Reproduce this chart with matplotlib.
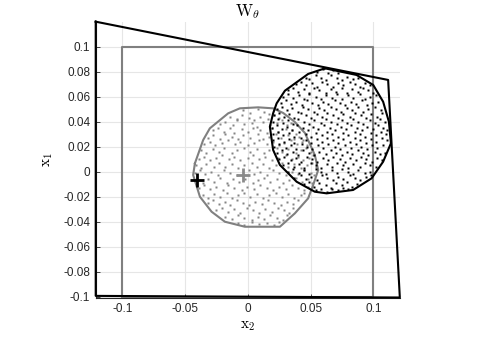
import numpy as np
import matplotlib.pyplot as plt

plt.rcParams['font.family'] = ['Liberation Sans', 'DejaVu Sans']
plt.rcParams['mathtext.fontset'] = 'cm'

# 点云 (单位: 1e-3)
gray_pts = [
    (-4, 49), (2, 47), (8, 50), (13, 48), (17, 46),
    (-14, 44), (-9, 42), (-5, 45), (1, 43), (5, 41), (10, 44), (16, 42), (21, 45), (25, 43),
    (-22, 38), (-18, 40), (-12, 37), (-9, 41), (-3, 38), (3, 39), (7, 36), (12, 40), (18, 37),
    (23, 39), (27, 41), (31, 37), (34, 39),
    (-28, 33), (-24, 35), (-19, 32), (-14, 35), (-11, 31), (-5, 34), (0, 32), (4, 35), (10, 33),
    (15, 31), (19, 35), (24, 32), (30, 34), (35, 33), (38, 30),
    (-32, 27), (-28, 29), (-22, 26), (-18, 30), (-13, 28), (-8, 26), (-4, 29), (2, 27), (8, 30),
    (12, 26), (17, 28), (22, 30), (26, 27), (32, 29), (37, 26), (41, 28), (44, 25),
    (-35, 22), (-30, 24), (-26, 21), (-21, 23), (-16, 25), (-10, 22), (-6, 24), (0, 21), (5, 23),
    (9, 25), (15, 22), (20, 24), (25, 21), (29, 23), (34, 25), (39, 22), (43, 24), (47, 21),
    (-37, 17), (-33, 15), (-28, 18), (-23, 16), (-19, 19), (-13, 15), (-9, 17), (-3, 19), (2, 16),
    (7, 18), (13, 15), (17, 17), (23, 19), (27, 16), (32, 18), (38, 15), (42, 17), (46, 19), (50, 16),
    (-39, 10), (-35, 12), (-30, 9), (-25, 11), (-21, 13), (-15, 10), (-11, 12), (-6, 9), (0, 11),
    (4, 13), (9, 10), (14, 12), (19, 9), (24, 11), (30, 13), (35, 10), (40, 12), (44, 9), (49, 11), (52, 13),
    (-41, 5), (-37, 3), (-33, 6), (-27, 4), (-23, 7), (-18, 4), (-13, 6), (-8, 3), (-3, 5), (3, 7),
    (7, 4), (12, 6), (17, 3), (22, 5), (27, 7), (32, 4), (37, 6), (42, 3), (47, 5), (51, 7), (54, 4),
    (-42, -1), (-38, 1), (-34, -2), (-29, 0), (-24, -3), (-19, 1), (-14, -1), (-9, -3), (1, 1), (5, -2),
    (10, 0), (15, -3), (20, 1), (25, -1), (30, -3), (35, 0), (40, -2), (45, 1), (50, -1), (53, -3),
    (-41, -7), (-36, -9), (-32, -6), (-27, -8), (-22, -5), (-17, -9), (-12, -6), (-7, -8), (-2, -6),
    (4, -9), (8, -7), (13, -5), (18, -8), (23, -6), (28, -9), (33, -7), (38, -5), (43, -8), (48, -6), (51, -9),
    (-39, -13), (-35, -11), (-30, -14), (-25, -12), (-20, -15), (-16, -11), (-11, -13), (-5, -15),
    (-1, -12), (5, -14), (10, -11), (15, -13), (20, -15), (25, -12), (30, -14), (35, -11), (40, -13),
    (45, -15), (48, -12),
    (-36, -19), (-32, -21), (-27, -18), (-22, -20), (-17, -17), (-13, -21), (-8, -19), (-3, -17),
    (2, -20), (7, -18), (12, -21), (17, -19), (22, -17), (27, -20), (32, -18), (37, -21), (42, -19), (45, -17),
    (-32, -25), (-28, -23), (-23, -26), (-18, -24), (-14, -27), (-9, -23), (-4, -25), (1, -27),
    (6, -24), (11, -26), (16, -23), (21, -25), (26, -27), (31, -24), (36, -26), (40, -23),
    (-25, -31), (-21, -29), (-16, -32), (-11, -30), (-6, -33), (-1, -29), (4, -31), (9, -33),
    (14, -30), (19, -32), (24, -29), (29, -31), (33, -33), (36, -29),
    (-18, -36), (-13, -38), (-8, -35), (-3, -37), (3, -39), (8, -36), (13, -38), (18, -35),
    (23, -37), (28, -39), (31, -35),
    (-8, -41), (-3, -43), (3, -40), (9, -42), (15, -41), (21, -43), (25, -40),
]

black_pts = [
    (55, 80), (60, 82), (64, 79), (68, 81), (72, 79),
    (46, 75), (49, 74), (54, 77), (58, 75), (62, 73), (66, 77), (71, 75), (75, 73), (79, 76), (84, 74), (88, 75),
    (38, 70), (42, 72), (46, 69), (51, 71), (55, 68), (59, 72), (63, 70), (68, 68), (72, 71), (76, 69),
    (81, 72), (85, 70), (89, 68), (93, 71), (97, 69),
    (32, 65), (36, 67), (40, 64), (45, 66), (49, 63), (53, 67), (57, 65), (62, 63), (66, 66), (70, 64),
    (75, 67), (79, 63), (83, 66), (88, 64), (92, 67), (96, 65), (100, 63),
    (28, 60), (32, 62), (36, 59), (41, 61), (45, 58), (49, 62), (54, 60), (58, 58), (62, 61), (67, 59),
    (71, 62), (75, 58), (80, 61), (84, 59), (89, 62), (93, 58), (97, 60), (102, 61),
    (26, 55), (30, 57), (34, 54), (38, 56), (43, 53), (47, 57), (51, 55), (56, 53), (60, 56), (64, 54),
    (69, 57), (73, 55), (77, 53), (82, 56), (86, 54), (91, 57), (95, 53), (99, 55), (104, 56),
    (23, 50), (27, 52), (31, 49), (35, 51), (40, 48), (44, 52), (48, 50), (53, 48), (57, 51), (61, 49),
    (66, 52), (70, 50), (74, 48), (79, 51), (83, 49), (88, 52), (92, 48), (96, 50), (101, 52), (106, 49),
    (21, 45), (25, 47), (29, 44), (33, 46), (37, 43), (42, 47), (46, 45), (50, 43), (55, 46), (59, 44),
    (63, 47), (68, 45), (72, 43), (76, 46), (81, 44), (85, 47), (90, 45), (94, 43), (98, 46), (103, 44), (107, 47),
    (20, 40), (24, 42), (28, 39), (32, 41), (36, 38), (40, 42), (45, 40), (49, 38), (53, 41), (58, 39),
    (62, 42), (66, 40), (71, 38), (75, 41), (79, 39), (84, 42), (88, 40), (92, 38), (97, 41), (101, 39),
    (105, 42), (109, 40),
    (19, 35), (23, 37), (27, 34), (31, 36), (35, 33), (39, 37), (44, 35), (48, 33), (52, 36), (56, 34),
    (61, 37), (65, 35), (69, 33), (74, 36), (78, 34), (82, 37), (87, 35), (91, 33), (95, 36), (100, 34),
    (104, 37), (108, 35), (111, 33),
    (20, 30), (24, 32), (28, 29), (33, 31), (37, 28), (41, 32), (46, 30), (50, 28), (54, 31), (59, 29),
    (63, 32), (67, 30), (72, 28), (76, 31), (80, 29), (85, 32), (89, 30), (93, 28), (98, 31), (102, 29),
    (106, 32), (110, 30),
    (20, 25), (24, 27), (29, 24), (33, 26), (37, 23), (42, 27), (46, 25), (50, 23), (55, 26), (59, 24),
    (63, 27), (68, 25), (72, 23), (76, 26), (81, 24), (85, 27), (89, 25), (94, 23), (98, 26), (102, 24),
    (107, 27), (111, 25),
    (21, 20), (25, 22), (30, 19), (34, 21), (38, 18), (43, 22), (47, 20), (51, 18), (56, 21), (60, 19),
    (64, 22), (69, 20), (73, 18), (77, 21), (82, 19), (86, 22), (90, 20), (95, 18), (99, 21), (103, 19), (108, 21),
    (23, 15), (27, 17), (31, 14), (36, 16), (40, 13), (44, 17), (49, 15), (53, 13), (57, 16), (62, 14),
    (66, 17), (70, 15), (75, 13), (79, 16), (83, 14), (88, 17), (92, 15), (96, 13), (101, 16), (105, 14), (109, 15),
    (25, 10), (29, 12), (34, 9), (38, 11), (42, 8), (47, 12), (51, 10), (55, 8), (60, 11), (64, 9),
    (68, 12), (73, 10), (77, 8), (81, 11), (86, 9), (90, 12), (94, 10), (99, 8), (103, 11), (107, 9),
    (28, 5), (32, 7), (37, 4), (41, 6), (45, 3), (50, 7), (54, 5), (58, 3), (63, 6), (67, 4),
    (71, 7), (76, 5), (80, 3), (84, 6), (89, 4), (93, 7), (97, 5), (102, 4),
    (32, 0), (36, 2), (41, -1), (45, 1), (49, -2), (54, 2), (58, 0), (62, -2), (67, 1), (71, -1),
    (75, 2), (80, 0), (84, -2), (88, 1), (93, -1), (97, 0), (98, -3),
    (37, -5), (42, -3), (46, -6), (50, -4), (55, -7), (59, -3), (63, -5), (68, -7), (72, -4), (76, -6),
    (81, -3), (85, -5), (89, -7), (94, -4),
    (45, -10), (49, -8), (53, -12), (57, -9), (62, -11), (66, -13), (70, -9), (75, -11), (79, -8), (83, -12), (87, -10),
    (54, -15), (58, -14), (63, -16), (67, -14), (72, -15), (76, -13), (80, -14),
]

# 凸包顶点
gray_hull = [(-0.0422, 0.0067), (-0.0436, -0.0026), (-0.0382, -0.02), (-0.0289, -0.032),
             (-0.0183, -0.04), (-0.0024, -0.044), (0.0255, -0.044), (0.0374, -0.0333),
             (0.048, -0.0213), (0.052, -0.0106), (0.056, 0.0014), (0.0533, 0.0134),
             (0.0454, 0.031), (0.0374, 0.0398), (0.0281, 0.047), (0.0201, 0.0507),
             (0.0082, 0.0515), (-0.0064, 0.0507), (-0.0157, 0.0467), (-0.0303, 0.0347),
             (-0.0356, 0.0254)]
black_hull = [(0.0613, 0.0827), (0.0865, 0.0774), (0.0998, 0.0694), (0.1077, 0.056),
              (0.1123, 0.04), (0.1139, 0.0227), (0.1077, 0.008), (0.0985, -0.0053),
              (0.0838, -0.0146), (0.0627, -0.0173), (0.0533, -0.016), (0.0388, -0.008),
              (0.0255, 0.0054), (0.0201, 0.0174), (0.0175, 0.036), (0.0201, 0.0467),
              (0.0229, 0.0547), (0.0295, 0.0648), (0.048, 0.0782)]

box = [(-0.1, -0.1), (0.1, -0.1), (0.1, 0.1), (-0.1, 0.1)]
outer = [(-0.1212, 0.12), (0.1117, 0.0734), (0.121, -0.1006), (-0.1212, -0.0993)]
gray_plus = (-0.0037, -0.0026)
black_plus = (-0.0408, -0.0066)

xticks = [-0.1, -0.05, 0, 0.05, 0.1]
xlabels = ['-0.1', '-0.05', '0', '0.05', '0.1']
yticks = [-0.1, -0.08, -0.06, -0.04, -0.02, 0, 0.02, 0.04, 0.06, 0.08, 0.1]
ylabels = ['-0.1', '-0.08', '-0.06', '-0.04', '-0.02', '0', '0.02', '0.04', '0.06', '0.08', '0.1']

GRAY = '#808080'


def closed(pts):
    a = np.array(pts, dtype=float)
    return np.vstack([a, a[:1]])


fig = plt.figure(figsize=(4.79, 3.59), dpi=100)
ax = fig.add_axes([0.1998, 0.1713, 0.6349, 0.7683])

b = closed(box)
ax.plot(b[:, 0], b[:, 1], color=GRAY, lw=1.5, zorder=2)

g = np.array(gray_pts) / 1000.0
ax.plot(g[:, 0], g[:, 1], 's', ms=1.6, mfc='#858585', mec='none', zorder=3)
gh = closed(gray_hull)
ax.plot(gh[:, 0], gh[:, 1], color=GRAY, lw=1.5, zorder=4)

k = np.array(black_pts) / 1000.0
ax.plot(k[:, 0], k[:, 1], 's', ms=1.8, mfc='black', mec='none', zorder=5)
kh = closed(black_hull)
ax.plot(kh[:, 0], kh[:, 1], color='black', lw=1.5, zorder=6)

o = closed(outer)
ax.plot(o[:, 0], o[:, 1], color='black', lw=1.5, zorder=7, clip_on=False)

ax.plot(*gray_plus, '+', ms=10, mew=2, color='#8a8a8a', zorder=8)
ax.plot(*black_plus, '+', ms=10, mew=2, color='black', zorder=8)

ax.set_xlim(-0.1212, 0.121)
ax.set_ylim(-0.1006, 0.12)
ax.set_xticks(xticks)
ax.set_xticklabels(xlabels)
ax.set_yticks(yticks)
ax.set_yticklabels(ylabels)
ax.tick_params(direction='in', length=3, width=0.6, labelsize=8.5, colors='#262626', pad=4)
ax.grid(True, color='#e6e6e6', lw=0.8)
ax.set_axisbelow(True)
for s in ['top', 'right']:
    ax.spines[s].set_visible(False)
for s in ['left', 'bottom']:
    ax.spines[s].set_color('#262626')
    ax.spines[s].set_linewidth(0.8)

ax.set_title(r'$\mathrm{W}_\theta$', fontsize=12, pad=4)
ax.set_xlabel(r'$\mathrm{x}_2$', fontsize=11, labelpad=3)
ax.set_ylabel(r'$\mathrm{x}_1$', fontsize=11, labelpad=6)

plt.savefig('out.png', dpi=100)
